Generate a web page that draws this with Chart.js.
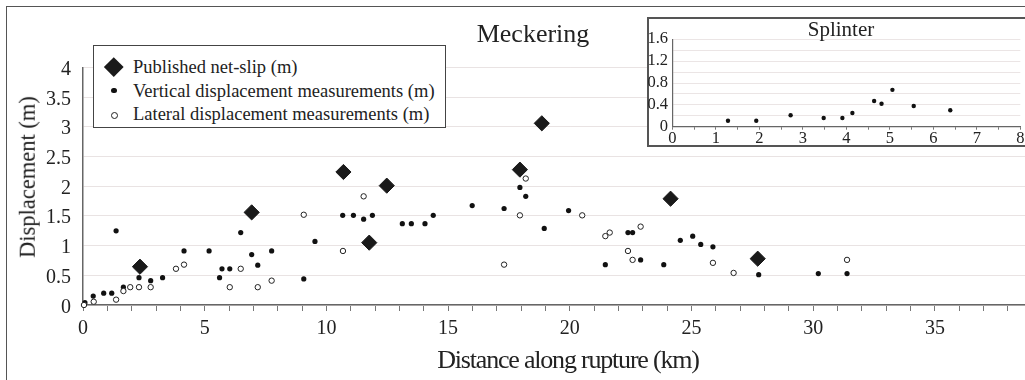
<!DOCTYPE html>
<html><head><meta charset="utf-8">
<script src="https://cdn.jsdelivr.net/npm/chart.js@4"></script>
<style>
html,body{margin:0;padding:0;background:#fff;overflow:hidden;width:1025px;height:380px;}
#wrap{position:relative;width:1025px;height:380px;overflow:hidden;font-family:'Liberation Serif','Times New Roman',serif;color:#222;}
.abs{position:absolute;white-space:nowrap;line-height:1;}
#frame{left:6px;top:6px;width:1200px;height:500px;border-top:1.5px solid #555;border-left:1.5px solid #555;}
#main{position:absolute;left:0;top:0;}
#legend{left:93px;top:45px;width:353px;height:83px;box-sizing:border-box;border:1.3px solid #444;background:#fff;}
.lt{font-size:18.5px;left:133px;}
#dia{left:106.5px;top:60px;width:13.5px;height:13.5px;background:#1a1a1a;transform:rotate(45deg);}
#ldot{left:111.4px;top:87.9px;width:5.2px;height:5.2px;border-radius:50%;background:#111;}
#lcir{left:110.5px;top:111.5px;width:5px;height:5px;border-radius:50%;border:1px solid #222;background:#fff;}
#title{left:533px;top:20.5px;font-size:26px;transform:translateX(-50%);}
#xt{left:568px;top:346.5px;font-size:26px;letter-spacing:-1.2px;transform:translateX(-50%);}
#yt{left:27.6px;top:176.5px;font-size:22.5px;transform:translate(-50%,-50%) rotate(-90deg);}
#ibox{left:647px;top:17px;width:500px;height:130.3px;box-sizing:border-box;border:2px solid #555;background:#fff;}
#inset{position:absolute;left:645px;top:19px;}
#ititle{left:841px;top:19.1px;font-size:21px;transform:translateX(-50%);}
</style></head>
<body><div id="wrap">
<div id="frame" class="abs"></div>
<canvas id="main" width="1080" height="380"></canvas>
<div id="title" class="abs">Meckering</div>
<div id="yt" class="abs">Displacement (m)</div>
<div id="xt" class="abs">Distance along rupture (km)</div>
<div id="legend" class="abs"></div>
<div id="dia" class="abs"></div>
<div id="ldot" class="abs"></div>
<div id="lcir" class="abs"></div>
<div class="abs lt" style="top:58px">Published net-slip (m)</div>
<div class="abs lt" style="top:81.5px">Vertical displacement measurements (m)</div>
<div class="abs lt" style="top:105px">Lateral displacement measurements (m)</div>
<div id="ibox" class="abs"></div>
<canvas id="inset" width="420" height="128"></canvas>
<div id="ititle" class="abs">Splinter</div>
</div>
<script>
// Published net-slip (m)
const netX = [2.34, 6.93, 10.70, 11.76, 12.48, 17.95, 18.85, 24.14, 27.72];
const netY = [0.645, 1.56, 2.24, 1.05, 2.01, 2.28, 3.06, 1.79, 0.78];
// Vertical displacement measurements (m)
const vertX = [0.08,0.42,0.85,1.18,1.36,1.66,2.30,2.78,3.27,4.15,5.18,5.61,5.71,6.03,6.48,6.93,7.18,7.75,9.07,9.53,10.67,11.11,11.53,11.89,13.12,13.49,14.05,14.39,15.99,17.30,17.95,18.19,18.95,19.95,21.46,22.39,22.58,22.91,23.86,24.54,25.05,25.38,25.88,27.76,30.21,31.39];
const vertY = [0.04,0.15,0.20,0.20,1.25,0.30,0.46,0.41,0.46,0.91,0.91,0.46,0.61,0.61,1.22,0.85,0.67,0.91,0.44,1.07,1.51,1.51,1.445,1.51,1.37,1.37,1.37,1.51,1.675,1.625,1.98,1.83,1.29,1.59,0.68,1.22,1.22,0.76,0.68,1.09,1.16,1.02,0.98,0.51,0.53,0.53];
// Lateral displacement measurements (m)
const latX = [0.04,0.44,1.36,1.66,1.94,2.30,2.78,3.82,4.15,6.03,6.48,7.18,7.75,9.07,10.68,11.53,17.30,17.95,18.19,20.51,21.46,21.64,22.39,22.58,22.91,25.88,26.73,31.39];
const latY = [0,0.055,0.09,0.235,0.30,0.30,0.30,0.61,0.68,0.30,0.61,0.30,0.41,1.52,0.91,1.83,0.68,1.51,2.13,1.51,1.16,1.22,0.91,0.76,1.32,0.71,0.54,0.76];
// Splinter inset
const splX = [1.28,1.93,2.72,3.48,3.91,4.14,4.64,4.81,5.06,5.55,6.39];
const splY = [0.11,0.11,0.21,0.16,0.16,0.25,0.47,0.42,0.675,0.38,0.30];
// Axis ranges / tick steps
const mainXRange = [0, 40], mainXStep = 1, mainXLabelEvery = 5;
const mainYRange = [0, 4], mainYStep = 0.5;
const insXRange = [0, 8], insXStep = 0.5;
const insYRange = [0, 1.6], insYStep = 0.2;

const pts = (xs, ys) => xs.map((x, i) => ({x, y: ys[i]}));
const FONT = 'Liberation Serif';
Chart.defaults.font.family = FONT;

// Draws the scales' own tick labels (positions from the library's scales) in the serif face
const serifLabels = {
  id: 'serifLabels',
  afterDraw(chart, args, o) {
    const ctx = chart.ctx, xs = chart.scales.x, ys = chart.scales.y;
    ctx.save();
    ctx.fillStyle = '#222';
    ctx.font = o.size + 'px "Liberation Serif", "Times New Roman", serif';
    ctx.textBaseline = 'alphabetic';
    ctx.textAlign = 'center';
    xs.ticks.forEach(t => { if (t.label !== '' && t.label != null) ctx.fillText(t.label, xs.getPixelForValue(t.value), xs.top + o.xBase); });
    ctx.textAlign = 'right';
    ys.ticks.forEach(t => { if (t.label !== '' && t.label != null) ctx.fillText(t.label, ys.right - o.yGap, ys.getPixelForValue(t.value) + o.yBase); });
    ctx.restore();
  }
};

new Chart(document.getElementById('main'), {
  type: 'scatter',
  data: { datasets: [
    {label: 'Lateral displacement measurements (m)', data: pts(latX, latY), pointStyle: 'circle', pointRadius: 2.7, backgroundColor: '#fff', borderColor: '#222', borderWidth: 1, clip: false},
    {label: 'Vertical displacement measurements (m)', data: pts(vertX, vertY), pointStyle: 'circle', pointRadius: 2.6, backgroundColor: '#111', borderColor: '#111', borderWidth: 0, clip: false},
    {label: 'Published net-slip (m)', data: pts(netX, netY), pointStyle: 'rectRot', pointRadius: 7.6, backgroundColor: '#1a1a1a', borderColor: '#1a1a1a', borderWidth: 1, clip: false}
  ]},
  plugins: [serifLabels],
  options: {
    responsive: false, animation: false, events: [],
    layout: {padding: {top: 67.5, left: 0, right: 23.4, bottom: 0}},
    plugins: {legend: {display: false}, tooltip: {enabled: false},
      serifLabels: {size: 20, xBase: 29.3, yGap: 12, yBase: 7.5}},
    scales: {
      x: {type: 'linear', min: mainXRange[0], max: mainXRange[1],
        afterFit(s) { s.height = 75; },
        ticks: {display: false, stepSize: mainXStep, autoSkip: false, maxRotation: 0, minRotation: 0,
          callback: v => (Math.round(v) % mainXLabelEvery === 0 ? String(Math.round(v)) : '')},
        grid: {drawOnChartArea: false, drawTicks: true, tickLength: 6, color: '#777', lineWidth: 1},
        border: {color: '#666', width: 1.5}},
      y: {type: 'linear', min: mainYRange[0], max: mainYRange[1],
        afterFit(s) { s.width = 83; },
        ticks: {display: false, stepSize: mainYStep,
          callback: v => String(Math.round(v * 10) / 10)},
        grid: {drawTicks: false, color: '#e9e3e3', lineWidth: 1},
        border: {color: '#666', width: 1.5}}
    }
  }
});

new Chart(document.getElementById('inset'), {
  type: 'scatter',
  data: { datasets: [
    {label: 'Splinter', data: pts(splX, splY), pointStyle: 'circle', pointRadius: 2.2, backgroundColor: '#111', borderWidth: 0, clip: false}
  ]},
  plugins: [serifLabels],
  options: {
    responsive: false, animation: false, events: [],
    layout: {padding: {top: 20.3, left: 0, right: 44.7, bottom: 0}},
    plugins: {legend: {display: false}, tooltip: {enabled: false},
      serifLabels: {size: 16.5, xBase: 16.3, yGap: 4.3, yBase: 3.8}},
    scales: {
      x: {type: 'linear', min: insXRange[0], max: insXRange[1],
        afterFit(s) { s.height = 20.3; },
        ticks: {display: false, stepSize: insXStep, autoSkip: false,
          callback: v => (Math.abs(v - Math.round(v)) < 1e-6 ? String(Math.round(v)) : '')},
        grid: {drawOnChartArea: false, drawTicks: true, tickLength: 3, color: '#777'},
        border: {color: '#666', width: 1.2}},
      y: {type: 'linear', min: insYRange[0], max: insYRange[1],
        afterFit(s) { s.width = 27.3; },
        ticks: {display: false, stepSize: insYStep, autoSkip: false,
          callback: v => (Math.round(v * 10) % 4 === 0 ? String(Math.round(v * 10) / 10) : '')},
        grid: {drawTicks: false, color: '#ebe5e5'},
        border: {color: '#666', width: 1.2}}
    }
  }
});
</script>
</body></html>
